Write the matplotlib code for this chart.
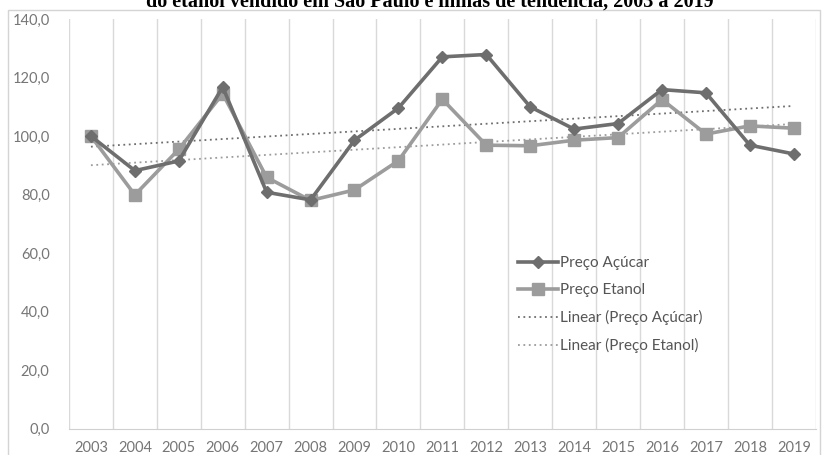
import numpy as np
import matplotlib.pyplot as plt
from matplotlib.patches import Rectangle

# dados
anos = ['2003', '2004', '2005', '2006', '2007', '2008', '2009', '2010', '2011',
        '2012', '2013', '2014', '2015', '2016', '2017', '2018', '2019']
preco_acucar = [100.0, 88.2, 91.5, 116.8, 80.8, 78.2, 98.6, 109.6, 127.1,
                127.9, 110.0, 102.4, 104.3, 115.9, 114.8, 96.9, 93.9]
preco_etanol = [100.0, 79.9, 95.5, 114.5, 85.9, 78.0, 81.6, 91.6, 112.6,
                96.9, 96.7, 98.6, 99.5, 112.5, 100.7, 103.5, 102.7]
yticks = [0, 20, 40, 60, 80, 100, 120, 140]

cor_acucar = '#6e6e6e'
cor_etanol = '#9c9c9c'
cor_texto = '#767676'
fonte = 'Lato'

fig = plt.figure(figsize=(8.29, 4.55), dpi=100)
ax = fig.add_axes([0.0832, 0.058, 0.9008, 0.9])

x = np.arange(len(anos))

ax.plot(x, preco_acucar, color=cor_acucar, lw=2.6, marker='D', ms=6,
        label='Preço Açúcar', zorder=4)
ax.plot(x, preco_etanol, color=cor_etanol, lw=2.6, marker='s', ms=8,
        label='Preço Etanol', zorder=3)

# linhas de tendência (linear)
for serie, cor, nome in [(preco_acucar, cor_acucar, 'Linear (Preço Açúcar)'),
                         (preco_etanol, cor_etanol, 'Linear (Preço Etanol)')]:
    a, b = np.polyfit(x, serie, 1)
    ax.plot(x, a * x + b, color=cor, lw=1.3, ls=(0, (1, 2)), label=nome, zorder=2)

ax.set_xlim(-0.5, len(anos) - 0.5)
ax.set_ylim(0, 140)
ax.set_yticks(yticks)
ax.set_yticklabels([f'{v:.1f}'.replace('.', ',') for v in yticks],
                   color=cor_texto, fontsize=10.5, family=fonte)
ax.set_xticks(x)
ax.set_xticklabels(anos, color=cor_texto, fontsize=10.5, family=fonte)
ax.set_xticks(np.arange(-0.5, len(anos)), minor=True)
ax.tick_params(which='both', length=0)
ax.tick_params(axis='y', pad=14)
ax.tick_params(axis='x', pad=9)
ax.grid(which='minor', axis='x', color='#d9d9d9', lw=1)
ax.grid(which='major', visible=False)
for lado in ['top', 'left', 'right']:
    ax.spines[lado].set_visible(False)
ax.spines['bottom'].set_color('#d0d0d0')

leg = ax.legend(loc='upper left', bbox_to_anchor=(0.583, 0.455), frameon=False,
                handlelength=2.6, handletextpad=0.15, labelspacing=0.85,
                prop={'family': fonte, 'size': 11})
for t in leg.get_texts():
    t.set_color('#555555')

# borda da área do gráfico
fig.patches.append(Rectangle((8 / 829, -0.1), 812 / 829, 1.1 - 10 / 455,
                             transform=fig.transFigure, fill=False,
                             edgecolor='#d4d4d4', lw=1))

# título (cortado no topo, como na imagem)
fig.text(0.519, 1 - 7 / 455,
         'do etanol vendido em São Paulo e linhas de tendência, 2003 a 2019',
         ha='center', va='baseline', fontsize=14.5, fontweight='bold',
         family='Liberation Serif', color='black')

fig.savefig('out.png', dpi=100)
